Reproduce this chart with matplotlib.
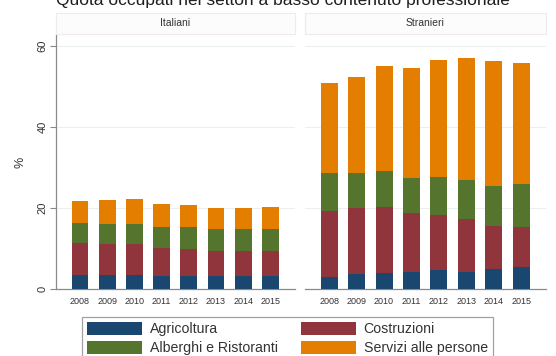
import matplotlib
matplotlib.use('Agg')
import matplotlib.pyplot as plt
import numpy as np

plt.rcParams['font.family'] = ['Liberation Sans', 'DejaVu Sans']

years = ['2008', '2009', '2010', '2011', '2012', '2013', '2014', '2015']
groups = ['Italiani', 'Stranieri']
sectors = ['Agricoltura', 'Costruzioni', 'Alberghi e Ristoranti', 'Servizi alle persone']
colors = ['#1a476f', '#90353b', '#55752f', '#e37e00']

# quote (%) per settore, per anno
ita_agricoltura = [3.5, 3.5, 3.5, 3.3, 3.3, 3.3, 3.3, 3.3]
ita_costruzioni = [7.9, 7.7, 7.6, 6.9, 6.7, 6.2, 6.2, 6.2]
ita_alberghi = [4.9, 4.8, 4.9, 5.2, 5.2, 5.2, 5.2, 5.2]
ita_servizi = [5.4, 6.0, 6.1, 5.6, 5.6, 5.4, 5.3, 5.5]

str_agricoltura = [3.0, 3.7, 4.0, 4.3, 4.7, 4.3, 4.9, 5.4]
str_costruzioni = [16.3, 16.2, 16.3, 14.5, 13.6, 13.0, 10.7, 10.0]
str_alberghi = [9.3, 8.7, 8.9, 8.6, 9.3, 9.6, 9.9, 10.5]
str_servizi = [22.2, 23.7, 25.9, 27.1, 28.9, 30.1, 30.9, 29.8]

data = {
    'Italiani': [ita_agricoltura, ita_costruzioni, ita_alberghi, ita_servizi],
    'Stranieri': [str_agricoltura, str_costruzioni, str_alberghi, str_servizi],
}

W, H = 556, 356
fig = plt.figure(figsize=(W / 100, H / 100), dpi=100)
fig.patch.set_facecolor('white')

panels = [(56, 295), (305, 546)]
top_px, bot_px = 35, 289
ymax = (bot_px - top_px) / 4.05

xs = np.arange(len(years))
handles = []
for i, g in enumerate(groups):
    x0, x1 = panels[i]
    ax = fig.add_axes([x0 / W, (H - bot_px) / H, (x1 - x0) / W, (bot_px - top_px) / H])
    bottom = np.zeros(len(years))
    for k, s in enumerate(sectors):
        vals = np.array(data[g][k])
        b = ax.bar(xs, vals, width=0.62, bottom=bottom, color=colors[k], label=s, zorder=3)
        bottom += vals
        if i == 0:
            handles.append(b)
    ax.set_xlim(-0.88, 7.9)
    ax.set_ylim(0, ymax)
    ax.set_yticks([0, 20, 40, 60])
    ax.yaxis.grid(True, color='#eaf0f1', linewidth=0.8, zorder=0)
    ax.set_xticks(xs)
    ax.set_xticklabels(years, fontsize=6.5, color='#333333')
    ax.tick_params(axis='x', length=0, pad=6)
    for sp in ['top', 'right']:
        ax.spines[sp].set_visible(False)
    ax.spines['bottom'].set_color('#8a8a8a')
    ax.spines['bottom'].set_linewidth(0.9)
    if i == 0:
        ax.spines['left'].set_color('#8a8a8a')
        ax.spines['left'].set_linewidth(0.9)
        ax.tick_params(axis='y', length=4, color='#8a8a8a', labelsize=8, labelcolor='#333333', pad=2)
        for lab in ax.get_yticklabels():
            lab.set_rotation(90)
            lab.set_va('center')
        ax.set_ylabel('%', fontsize=9, color='#333333', labelpad=8)
    else:
        ax.spines['left'].set_visible(False)
        ax.tick_params(axis='y', length=0, labelleft=False)

    # intestazione del pannello
    sx = fig.add_axes([x0 / W, (H - 34) / H, (x1 - x0) / W, 21 / H])
    sx.set_facecolor('#fcfcfc')
    sx.set_xticks([])
    sx.set_yticks([])
    for sp in sx.spines.values():
        sp.set_color('#ececec')
        sp.set_linewidth(0.8)
    sx.text(0.5, 0.5, g, ha='center', va='center', fontsize=7.5, color='#333333',
            transform=sx.transAxes)

fig.text(283 / W, 1 - 5 / H, 'Quota occupati nei settori a basso contenuto professionale',
         ha='center', va='baseline', fontsize=12.5, color='#1e1e1e')

order = [0, 2, 1, 3]
leg = fig.legend([handles[j] for j in order], [sectors[j] for j in order],
                 ncol=2, loc='upper left', bbox_to_anchor=(82 / W, (H - 317) / H),
                 borderaxespad=0, fontsize=10.2, handlelength=3.9, handleheight=1.05,
                 handletextpad=0.55, columnspacing=1.6, labelspacing=0.32,
                 borderpad=0.35, fancybox=False, frameon=True)
leg.get_frame().set_edgecolor('#8a8a8a')
leg.get_frame().set_linewidth(0.9)
for t in leg.get_texts():
    t.set_color('#333333')

fig.savefig('out.png', dpi=100, facecolor='white')
